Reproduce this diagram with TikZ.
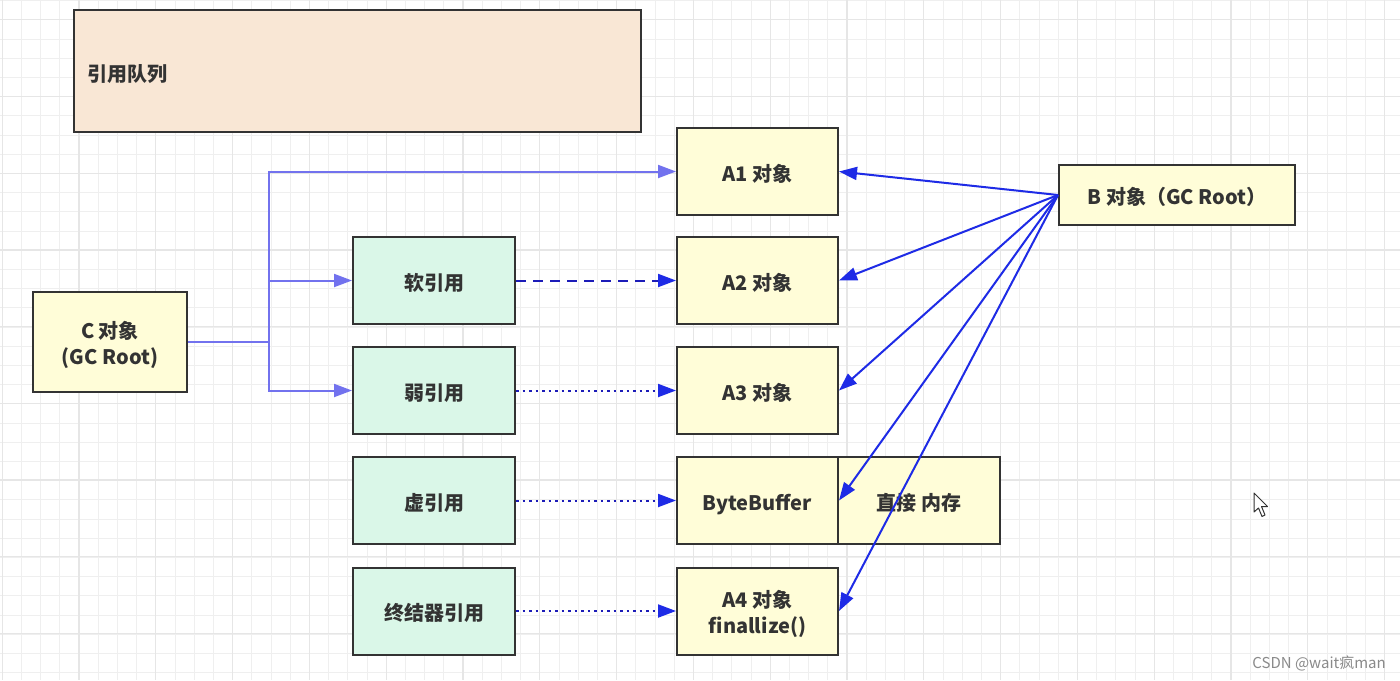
\documentclass[tikz,border=0pt]{standalone}
\usepackage{fontspec}
\newfontfamily\cjk{Noto Sans CJK SC}
\usetikzlibrary{arrows.meta}
\definecolor{gridminor}{HTML}{EFEFEF}
\definecolor{gridmajor}{HTML}{E6E6E6}
\definecolor{boxline}{HTML}{333333}
\definecolor{txt}{HTML}{333333}
\definecolor{peach}{HTML}{F9E7D5}
\definecolor{lyellow}{HTML}{FFFDD8}
\definecolor{lgreen}{HTML}{DAF7E8}
\definecolor{cblue}{HTML}{7272EE}
\definecolor{rblue}{HTML}{1C1CB8}
\definecolor{bblue}{HTML}{1E2BE6}
\definecolor{wm}{HTML}{8A8A8A}
\newcommand{\lo}[1]{\raisebox{-4.5pt}[\height][\depth]{\begin{tabular}{@{}c@{}}#1\end{tabular}}}
\tikzset{
  box/.style={draw=boxline, line width=2pt, inner sep=0pt, align=center,
    font=\cjk\bfseries\fontsize{20}{26}\selectfont, text=txt},
  ybox/.style={box, fill=lyellow, minimum width=161pt, minimum height=87pt},
  gbox/.style={box, fill=lgreen, minimum width=162pt, minimum height=87pt},
  tip/.style={-{Triangle[length=18pt,width=13pt]}},
  cline/.style={draw=cblue, line width=2pt},
  carrow/.style={cline, tip, cblue},
  rarrow/.style={draw=rblue, line width=2pt, arrows={-{Triangle[length=18pt,width=13pt,color=bblue,fill=bblue]}}},
  barrow/.style={draw=bblue, line width=2pt, tip}
}
\begin{document}
\begin{tikzpicture}[x=1pt,y=-1pt]
\useasboundingbox (0,0) rectangle (1400,680);
\fill[white] (0,0) rectangle (1400,680);
% grid
\foreach \i in {0,...,72} {
  \pgfmathsetmacro{\xx}{2.2+19.2*\i}
  \draw[gridminor, line width=1pt] (\xx,0) -- (\xx,680);
}
\foreach \i in {0,...,35} {
  \pgfmathsetmacro{\yy}{0.6+19.2*\i}
  \draw[gridminor, line width=1pt] (0,\yy) -- (1400,\yy);
}
\foreach \i in {0,...,18} {
  \pgfmathsetmacro{\xx}{2.2+76.8*\i}
  \draw[gridmajor, line width=1.2pt] (\xx,0) -- (\xx,680);
}
\foreach \i in {0,...,9} {
  \pgfmathsetmacro{\yy}{19.8+76.7*\i}
  \draw[gridmajor, line width=1.2pt] (0,\yy) -- (1400,\yy);
}
% nodes
\node[box, fill=peach, minimum width=567pt, minimum height=122pt, text width=541pt, align=left] (queue) at (357.5,71) {\raisebox{-3pt}[\height][\depth]{引用队列}};
\node[box, fill=lyellow, minimum width=154pt, minimum height=100pt] (C) at (110,342) {\lo{C 对象\\(GC Root)}};
\node[gbox] (soft) at (434,280.5) {\lo{软引用}};
\node[gbox] (weak) at (434,390.5) {\lo{弱引用}};
\node[gbox] (phantom) at (434,500.5) {\lo{虚引用}};
\node[gbox] (final) at (434,611) {\lo{终结器引用}};
\node[ybox] (A1) at (757.5,171.5) {\lo{A1 对象}};
\node[ybox] (A2) at (757.5,280.5) {\lo{A2 对象}};
\node[ybox] (A3) at (757.5,390.5) {\lo{A3 对象}};
\node[ybox] (BB) at (757.5,500.5) {\lo{ByteBuffer}};
\node[ybox, minimum width=162pt] (DM) at (919,500.5) {\lo{直接 内存}};
\node[ybox] (A4) at (757.5,611) {\lo{A4 对象\\finallize()}};
\node[box, fill=lyellow, minimum width=236pt, minimum height=60pt] (B) at (1177,195) {\lo{B 对象（GC Root）}};
% C connectors
\coordinate (J) at (269,342);
\draw[cline] (C.east) -- (J);
\draw[carrow] (J) |- (A1.west);
\draw[carrow] (J) |- (soft.west);
\draw[carrow] (J) |- (weak.west);
% reference arrows
\draw[rarrow, dash pattern=on 10pt off 7pt] (soft.east) -- (A2.west);
\draw[rarrow, dash pattern=on 2.5pt off 4pt] (weak.east) -- (A3.west);
\draw[rarrow, dash pattern=on 2.5pt off 4pt] (phantom.east) -- (BB.west);
\draw[rarrow, dash pattern=on 2.5pt off 4pt] (final.east) -- (A4.west);
% B arrows
\draw[barrow] (B.west) -- (A1.east);
\draw[barrow] (B.west) -- (A2.east);
\draw[barrow] (B.west) -- (A3.east);
\draw[barrow] (B.west) -- (BB.east);
\draw[barrow] (B.west) -- (A4.east);
% cursor
\draw[fill=white, draw=black!80, line width=1pt, line join=round]
  (1254,493) -- (1254,512) -- (1258.5,508) -- (1262,516.5) -- (1265,515) -- (1261.5,506.5) -- (1267.5,506.5) -- cycle;
% watermark
\node[font=\cjk\fontsize{15}{18}\selectfont, text=wm, anchor=east, inner sep=0pt] (wmk) at (1386,663) {CSDN @wait疯man};
\end{tikzpicture}
\end{document}
